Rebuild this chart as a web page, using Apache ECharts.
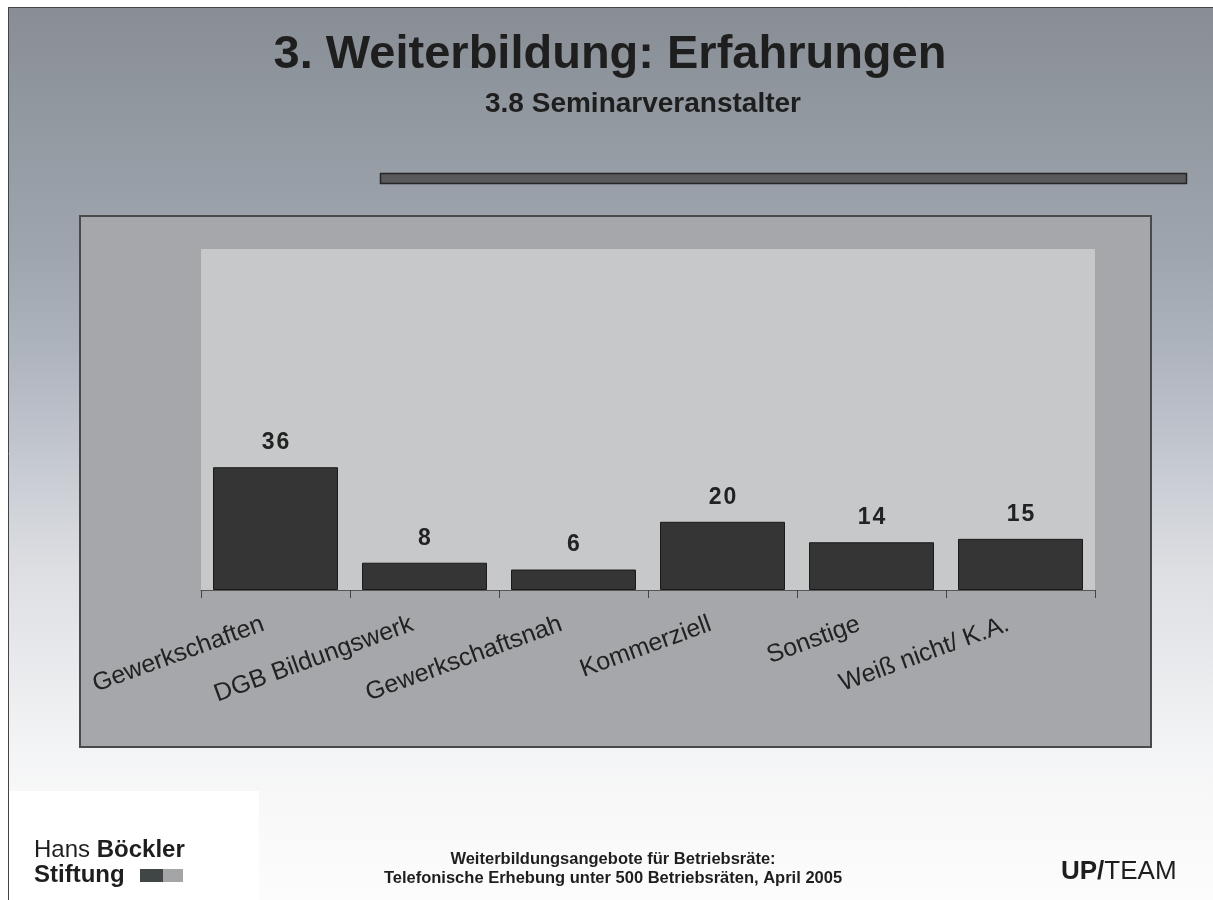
<!DOCTYPE html>
<html>
<head>
<meta charset="utf-8">
<script src="https://cdn.jsdelivr.net/npm/echarts@6/dist/echarts.min.js"></script>
<style>
  html, body { margin: 0; padding: 0; background: #fff; }
  #chart-container { width: 1213px; height: 900px; }
</style>
</head>
<body>
<div id="chart-container"></div>
<script>
// Seminarveranstalter, Angaben in Prozent
const categories = ['Gewerkschaften', 'DGB Bildungswerk', 'Gewerkschaftsnah', 'Kommerziell', 'Sonstige', 'Weiß nicht/ K.A.'];
const values = [36, 8, 6, 20, 14, 15];

const FONT = "'Liberation Sans', Arial, sans-serif";

// plot area of the slide
const plot = { left: 201, top: 249, width: 894, height: 341 };

var chartDom = document.getElementById('chart-container');
var myChart = echarts.init(chartDom);
var option;

option = {
    animation: false,
    textStyle: { fontFamily: FONT },
    graphic: [
        // slide background
        {
            type: 'rect', z: -100, silent: true,
            shape: { x: 0, y: 0, width: 1213, height: 900 },
            style: {
                fill: new echarts.graphic.LinearGradient(0, 0, 0, 1, [
                    { offset: 0, color: '#888d94' },
                    { offset: 0.17, color: '#959ca4' },
                    { offset: 0.28, color: '#9ea5ae' },
                    { offset: 0.39, color: '#aeb4bd' },
                    { offset: 0.47, color: '#bcc1ca' },
                    { offset: 0.56, color: '#cfd2d8' },
                    { offset: 0.63, color: '#dcdee2' },
                    { offset: 0.73, color: '#e8e9ec' },
                    { offset: 0.83, color: '#f3f4f5' },
                    { offset: 0.89, color: '#f8f8f9' },
                    { offset: 1, color: '#fcfcfc' }
                ])
            }
        },
        // white margin top/left and frame lines
        { type: 'rect', z: -99, silent: true, shape: { x: 0, y: 0, width: 1213, height: 7 }, style: { fill: '#ffffff' } },
        { type: 'rect', z: -99, silent: true, shape: { x: 0, y: 0, width: 8, height: 900 }, style: { fill: '#ffffff' } },
        { type: 'line', z: -98, silent: true, shape: { x1: 8, y1: 7.5, x2: 1213, y2: 7.5 }, style: { stroke: '#444', lineWidth: 1 } },
        { type: 'line', z: -98, silent: true, shape: { x1: 8.5, y1: 7, x2: 8.5, y2: 900 }, style: { stroke: '#444', lineWidth: 1 } },
        // logo area
        { type: 'rect', z: -97, silent: true, shape: { x: 9, y: 791, width: 250, height: 109 }, style: { fill: '#ffffff' } },
        // titles
        {
            type: 'text', z: 10, x: 610, y: 32,
            style: { text: '3. Weiterbildung: Erfahrungen', font: 'bold 47px ' + FONT, fill: '#1e1e1e', align: 'center' }
        },
        {
            type: 'text', z: 10, x: 643, y: 90,
            style: { text: '3.8 Seminarveranstalter', font: 'bold 28px ' + FONT, fill: '#1e1e1e', align: 'center' }
        },
        // dark rule under the title
        {
            type: 'rect', z: -90, silent: true,
            shape: { x: 380.5, y: 173.5, width: 806, height: 10 },
            style: { fill: '#59595b', stroke: '#262626', lineWidth: 1.5 }
        },
        // chart frame
        {
            type: 'rect', z: -90, silent: true,
            shape: { x: 80, y: 216, width: 1071, height: 531 },
            style: { fill: '#a6a7ab', stroke: '#4a4a4c', lineWidth: 2 }
        },
        // plot background
        {
            type: 'rect', z: -89, silent: true,
            shape: { x: plot.left, y: plot.top, width: plot.width, height: plot.height },
            style: { fill: '#c7c8ca' }
        },
        // footer
        {
            type: 'text', z: 10, x: 34, y: 838,
            style: {
                text: '{n|Hans }{b|Böckler}\n{b|Stiftung}',
                rich: {
                    n: { font: '24px ' + FONT, fill: '#1e1e1e', lineHeight: 25 },
                    b: { font: 'bold 24px ' + FONT, fill: '#1e1e1e', lineHeight: 25 }
                }
            }
        },
        { type: 'rect', z: 10, silent: true, shape: { x: 140, y: 869, width: 23, height: 13 }, style: { fill: '#3f4645' } },
        { type: 'rect', z: 10, silent: true, shape: { x: 163, y: 869, width: 20, height: 13 }, style: { fill: '#a3a5a6' } },
        {
            type: 'text', z: 10, x: 613, y: 850,
            style: {
                text: 'Weiterbildungsangebote für Betriebsräte:\nTelefonische Erhebung unter 500 Betriebsräten, April 2005',
                font: 'bold 16.5px ' + FONT, fill: '#1e1e1e', align: 'center', lineHeight: 19
            }
        },
        {
            type: 'text', z: 10, x: 1061, y: 859,
            style: {
                text: '{b|UP/}{n|TEAM}',
                rich: {
                    b: { font: 'bold 26px ' + FONT, fill: '#1e1e1e' },
                    n: { font: '26px ' + FONT, fill: '#1e1e1e' }
                }
            }
        }
    ],
    grid: {
        left: plot.left,
        top: plot.top,
        width: plot.width,
        height: plot.height,
        containLabel: false
    },
    xAxis: {
        type: 'category',
        data: categories,
        axisLine: { show: true, lineStyle: { color: '#555555', width: 1 } },
        axisTick: { show: true, length: 8, lineStyle: { color: '#444444', width: 1 } },
        axisLabel: {
            interval: 0,
            rotate: 20,
            margin: 29,
            padding: [0, 13, 0, 0],
            fontSize: 25,
            fontFamily: FONT,
            color: '#222222'
        },
        splitLine: { show: false }
    },
    yAxis: {
        type: 'value',
        min: 0,
        max: 100,
        show: false,
        splitLine: { show: false }
    },
    series: [
        {
            type: 'bar',
            data: values,
            barWidth: 125,
            itemStyle: { color: '#353535', borderColor: '#1a1a1a', borderWidth: 1 },
            label: {
                show: true,
                position: 'top',
                distance: 13,
                fontSize: 23,
                fontWeight: 'bold',
                fontFamily: FONT,
                color: '#222222',
                formatter: function (p) { return String(p.value).split('').join('\u200a'); }
            }
        }
    ]
};

option && myChart.setOption(option);
</script>
</body>
</html>
